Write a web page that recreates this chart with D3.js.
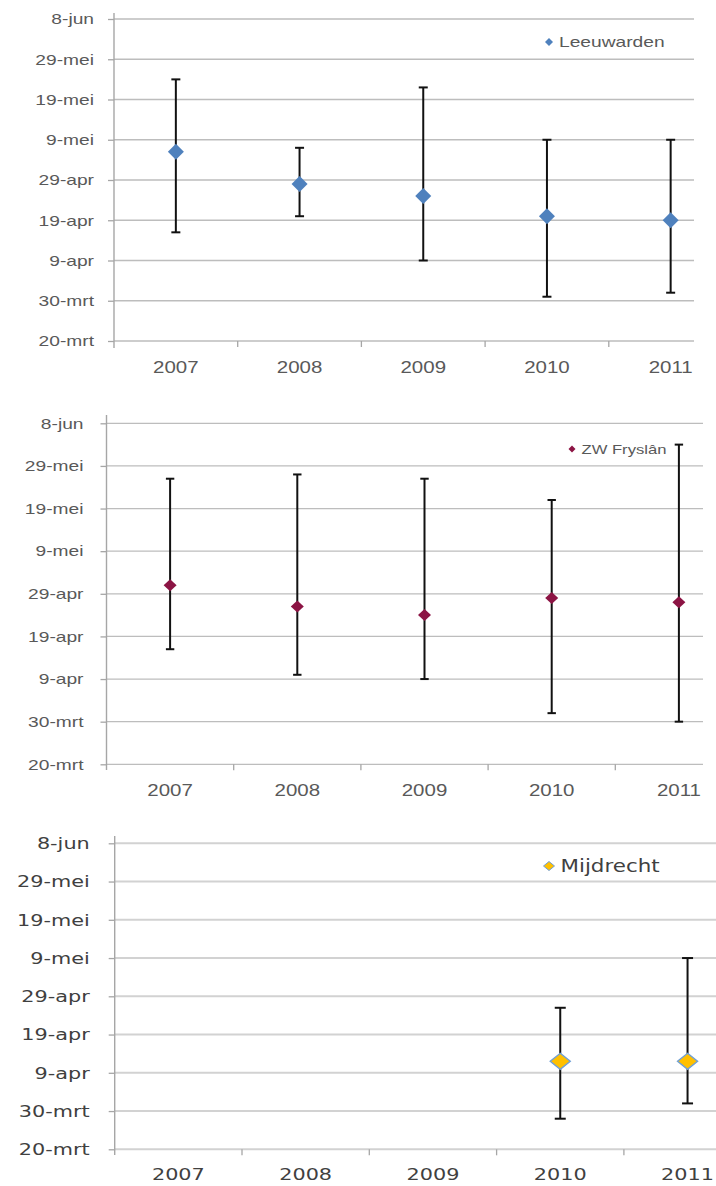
<!DOCTYPE html>
<html>
<head>
<meta charset="utf-8">
<script src="https://cdn.jsdelivr.net/npm/d3@7"></script>
<style>
  html, body { margin: 0; padding: 0; background: #fff; }
  svg { display: block; }
</style>
</head>
<body>
<script>
// Categories and axis labels
const years = ["2007", "2008", "2009", "2010", "2011"];
const yTickDates = ["03-20", "03-30", "04-09", "04-19", "04-29", "05-09", "05-19", "05-29", "06-08"];
const yTickLabels = ["20-mrt", "30-mrt", "9-apr", "19-apr", "29-apr", "9-mei", "19-mei", "29-mei", "8-jun"];

// Mean date with lower/upper range per year (month-day)
const leeuwardenMid  = ["05-06", "04-28", "04-25", "04-20", "04-19"];
const leeuwardenLow  = ["04-16", "04-20", "04-09", "03-31", "04-01"];
const leeuwardenHigh = ["05-24", "05-07", "05-22", "05-09", "05-09"];

const fryslanMid  = ["05-01", "04-26", "04-24", "04-28", "04-27"];
const fryslanLow  = ["04-16", "04-10", "04-09", "04-01", "03-30"];
const fryslanHigh = ["05-26", "05-27", "05-26", "05-21", "06-03"];

const mijdrechtMid  = [null, null, null, "04-12", "04-12"];
const mijdrechtLow  = [null, null, null, "03-28", "04-01"];
const mijdrechtHigh = [null, null, null, "04-26", "05-09"];

// All dates are placed on one common (non-leap) year
const parseMD = md => md == null ? null : d3.utcParse("%Y-%m-%d")("2011-" + md);

const panels = [
  {
    name: "Leeuwarden", mid: leeuwardenMid, low: leeuwardenLow, high: leeuwardenHigh,
    fill: "#4f81bd", stroke: "none",
    top: 19, bottom: 341, left: 114, band: 123.7, gridRight: 694, axisTop: 13, axisBottom: 348,
    font: "'Liberation Sans', Arial, sans-serif", fs: 15, xfs: 16, textColor: "#595959", sx: 1.28,
    labelGap: 20, xLabelY: 367, mw: 8, mh: 8, cap: 4.5,
    gridColor: "#bdbdbd", gridWidth: 1.3,
    legend: { x: 549, y: 42, fs: 15, mw: 4, mh: 4 }
  },
  {
    name: "ZW Fryslân", mid: fryslanMid, low: fryslanLow, high: fryslanHigh,
    fill: "#8c1444", stroke: "none",
    top: 423.3, bottom: 764.3, left: 106.5, band: 127.2, gridRight: 703, axisTop: 415, axisBottom: 770,
    font: "'Liberation Sans', Arial, sans-serif", fs: 15, xfs: 16, textColor: "#595959", sx: 1.28,
    labelGap: 23, xLabelY: 790, mw: 6.5, mh: 6, cap: 4.2,
    gridColor: "#bdbdbd", gridWidth: 1.3,
    legend: { x: 572, y: 449, fs: 13, mw: 3.5, mh: 3.5 }
  },
  {
    name: "Mijdrecht", mid: mijdrechtMid, low: mijdrechtLow, high: mijdrechtHigh,
    fill: "#ffc000", stroke: "#6f9fd6",
    top: 843.3, bottom: 1149.3, left: 114.7, band: 127.3, gridRight: 716, axisTop: 836, axisBottom: 1155,
    font: "'DejaVu Sans', Verdana, sans-serif", fs: 16.5, xfs: 16.5, textColor: "#404040", sx: 1.26,
    labelGap: 25, xLabelY: 1174.5, mw: 10, mh: 8, cap: 5.5,
    gridColor: "#d2d2d2", gridWidth: 2,
    legend: { x: 549, y: 866, fs: 17, mw: 5.5, mh: 4.5 }
  }
];

const svg = d3.select("body").append("svg")
  .attr("width", 716)
  .attr("height", 1186);

const diamond = (w, h) => `M0,${-h}L${w},0L0,${h}L${-w},0Z`;

panels.forEach(p => {
  const g = svg.append("g");

  const x = d3.scaleBand()
    .domain(years)
    .range([p.left, p.left + p.band * years.length])
    .padding(0);

  const tickDates = yTickDates.map(parseMD);
  const y = d3.scaleUtc()
    .domain([tickDates[0], tickDates[tickDates.length - 1]])
    .range([p.bottom, p.top]);

  // Horizontal gridlines
  g.append("g").selectAll("line")
    .data(tickDates)
    .join("line")
    .attr("x1", p.left)
    .attr("x2", p.gridRight)
    .attr("y1", d => y(d))
    .attr("y2", d => y(d))
    .attr("stroke", p.gridColor)
    .attr("stroke-width", p.gridWidth);

  // Vertical axis line
  g.append("line")
    .attr("x1", p.left).attr("x2", p.left)
    .attr("y1", p.axisTop).attr("y2", p.axisBottom)
    .attr("stroke", "#a6a6a6")
    .attr("stroke-width", 1.4);

  // Y axis with date labels
  const yAxis = g.append("g")
    .attr("transform", `translate(${p.left},0)`)
    .call(d3.axisLeft(y)
      .tickValues(tickDates)
      .tickFormat((d, i) => yTickLabels[i])
      .tickSize(6));
  yAxis.select(".domain").remove();
  yAxis.selectAll(".tick line").attr("stroke", "#a6a6a6").attr("stroke-width", 1.3);
  yAxis.selectAll(".tick text")
    .attr("x", -p.labelGap / p.sx)
    .attr("transform", `scale(${p.sx},1)`)
    .attr("fill", p.textColor)
    .style("font-family", p.font)
    .style("font-size", p.fs + "px");

  // Category boundary ticks below the bottom gridline
  g.append("g").selectAll("line")
    .data(years.slice(1))
    .join("line")
    .attr("x1", d => x(d)).attr("x2", d => x(d))
    .attr("y1", p.bottom).attr("y2", p.bottom + 6)
    .attr("stroke", "#a6a6a6")
    .attr("stroke-width", 1.3);

  // Year labels centred in each band
  const xAxis = g.append("g")
    .attr("transform", `translate(0,${p.bottom})`)
    .call(d3.axisBottom(x).tickSize(0));
  xAxis.select(".domain").remove();
  xAxis.selectAll(".tick text")
    .attr("y", p.xLabelY - p.bottom)
    .attr("dy", "0.35em")
    .attr("transform", `scale(${p.sx},1)`)
    .attr("fill", p.textColor)
    .style("font-family", p.font)
    .style("font-size", p.xfs + "px");

  const rows = years.map((yr, i) => ({
    year: yr,
    mid: parseMD(p.mid[i]),
    low: parseMD(p.low[i]),
    high: parseMD(p.high[i])
  })).filter(d => d.mid != null);

  const cx = d => x(d.year) + x.bandwidth() / 2;

  // Range bars with end caps
  const bars = g.append("g").selectAll("g").data(rows).join("g");
  bars.append("line")
    .attr("x1", cx).attr("x2", cx)
    .attr("y1", d => y(d.high)).attr("y2", d => y(d.low))
    .attr("stroke", "#111").attr("stroke-width", 2);
  bars.append("line")
    .attr("x1", d => cx(d) - p.cap).attr("x2", d => cx(d) + p.cap)
    .attr("y1", d => y(d.high)).attr("y2", d => y(d.high))
    .attr("stroke", "#111").attr("stroke-width", 2);
  bars.append("line")
    .attr("x1", d => cx(d) - p.cap).attr("x2", d => cx(d) + p.cap)
    .attr("y1", d => y(d.low)).attr("y2", d => y(d.low))
    .attr("stroke", "#111").attr("stroke-width", 2);

  // Mean markers
  g.append("g").selectAll("path")
    .data(rows)
    .join("path")
    .attr("d", diamond(p.mw, p.mh))
    .attr("transform", d => `translate(${cx(d)},${y(d.mid)})`)
    .attr("fill", p.fill)
    .attr("stroke", p.stroke)
    .attr("stroke-width", p.stroke === "none" ? 0 : 1.4);

  // Legend
  const lg = g.append("g").attr("transform", `translate(${p.legend.x},${p.legend.y})`);
  lg.append("path")
    .attr("d", diamond(p.legend.mw, p.legend.mh))
    .attr("fill", p.fill)
    .attr("stroke", p.stroke)
    .attr("stroke-width", p.stroke === "none" ? 0 : 1);
  lg.append("text")
    .attr("x", (p.legend.mw + 6) / p.sx)
    .attr("dy", "0.35em")
    .attr("transform", `scale(${p.sx},1)`)
    .attr("fill", p.textColor)
    .style("font-family", p.font)
    .style("font-size", p.legend.fs + "px")
    .text(p.name);
});
</script>
</body>
</html>
